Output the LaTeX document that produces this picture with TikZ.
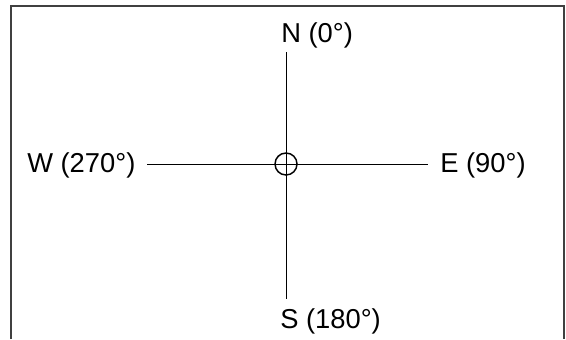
\documentclass[tikz,border=0pt]{standalone}
\usepackage{fontspec}
\setmainfont{Liberation Sans}
\usepackage{tikz}
\usetikzlibrary{positioning}

\begin{document}
\begin{tikzpicture}[
		x=0.75pt, y=-0.75pt,
		frame/.style={
			draw=black!75,
			line width=1.1pt
		},
		axis/.style={
			draw=black,
			line width=0.75pt
		},
		heading/.style={
			inner sep=0pt,
			anchor=base west,
			font=\fontsize{20.5}{24}\selectfont
		},
		centre/.style={
			draw=black,
			circle,
			line width=1.1pt,
			minimum size=16.5pt,
			inner sep=0pt
		}
		]
		
		\useasboundingbox (0,0) rectangle (566,339);
		
		% Open frame
		\draw[frame] (11,339) -- (11,6) -- (564,6) -- (564,339);
		
		% Direction labels
		\node[heading] (north) at (281,42) {N (0°)};
		\node[heading] (south) at (280,328) {S (180°)};
		\node[heading] (west) at (27,172) {W (270°)};
		\node[heading] (east) at (440,172) {E (90°)};
		
		% Axis ends
		\coordinate (ntip) at (286,52);
		\coordinate (stip) at (286,299);
		\coordinate (wtip) at (147,164);
		\coordinate (etip) at (428,164);
		
		% Axes
		\draw[axis] (ntip) -- (stip);
		\draw[axis] (wtip) -- (etip);
		
		% Centre mark
		\node[centre] (origin) at (286,164) {};
		
	\end{tikzpicture}
\end{document}
